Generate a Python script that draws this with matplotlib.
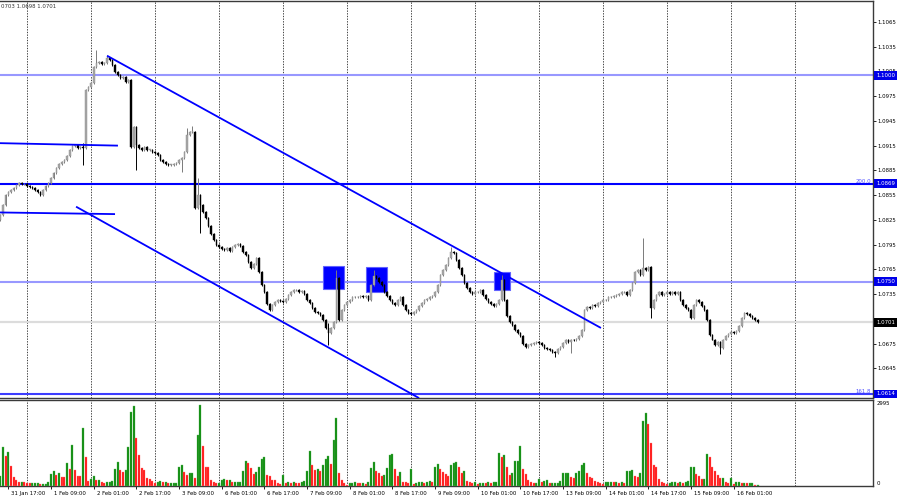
import matplotlib
matplotlib.use("Agg")
import matplotlib.pyplot as plt
import numpy as np
import pandas as pd
from matplotlib.patches import Rectangle
from matplotlib.transforms import ScaledTranslation

# ---------------- data ----------------
start_time = "2023-01-31 14:00"
first_open = 1.0825
closes = [
    1.0831, 1.0843, 1.0855, 1.0859, 1.0861, 1.0864, 1.0867, 1.0870, 1.0868, 1.0868,
    1.0866, 1.0865, 1.0864, 1.0861, 1.0859, 1.0855, 1.0861, 1.0866, 1.0870, 1.0876,
    1.0882, 1.0888, 1.0893, 1.0895, 1.0898, 1.0902, 1.0910, 1.0914, 1.0916, 1.0912,
    1.0913, 1.0912, 1.0982, 1.0986, 1.0991, 1.1010, 1.1015, 1.1016, 1.1014, 1.1015,
    1.1021, 1.1019, 1.1013, 1.1004, 1.1001, 1.0997, 1.0998, 1.0992, 1.0995, 1.0913,
    1.0937, 1.0916, 1.0912, 1.0910, 1.0913, 1.0910, 1.0910, 1.0907, 1.0906, 1.0904,
    1.0898, 1.0895, 1.0893, 1.0892, 1.0892, 1.0893, 1.0894, 1.0898, 1.0900, 1.0907,
    1.0928, 1.0932, 1.0932, 1.0839, 1.0855, 1.0843, 1.0834, 1.0827, 1.0818, 1.0808,
    1.0801, 1.0795, 1.0792, 1.0790, 1.0789, 1.0791, 1.0787, 1.0792, 1.0795, 1.0796,
    1.0793, 1.0786, 1.0783, 1.0774, 1.0767, 1.0772, 1.0779, 1.0762, 1.0746, 1.0737,
    1.0723, 1.0716, 1.0722, 1.0726, 1.0728, 1.0727, 1.0726, 1.0729, 1.0734, 1.0738,
    1.0740, 1.0740, 1.0738, 1.0739, 1.0735, 1.0728, 1.0724, 1.0718, 1.0713, 1.0712,
    1.0710, 1.0704, 1.0694, 1.0688, 1.0694, 1.0701, 1.0755, 1.0704, 1.0716, 1.0722,
    1.0726, 1.0728, 1.0731, 1.0731, 1.0732, 1.0733, 1.0732, 1.0733, 1.0728, 1.0746,
    1.0757, 1.0755, 1.0750, 1.0746, 1.0738, 1.0733, 1.0728, 1.0724, 1.0722, 1.0728,
    1.0732, 1.0722, 1.0716, 1.0712, 1.0711, 1.0713, 1.0716, 1.0721, 1.0724, 1.0728,
    1.0729, 1.0731, 1.0733, 1.0737, 1.0746, 1.0758, 1.0764, 1.0770, 1.0779, 1.0786,
    1.0785, 1.0776, 1.0767, 1.0758, 1.0749, 1.0743, 1.0738, 1.0735, 1.0737, 1.0738,
    1.0740, 1.0734, 1.0729, 1.0726, 1.0723, 1.0721, 1.0723, 1.0728, 1.0752, 1.0728,
    1.0709, 1.0701, 1.0697, 1.0692, 1.0688, 1.0684, 1.0675, 1.0671, 1.0673, 1.0675,
    1.0676, 1.0677, 1.0676, 1.0673, 1.0670, 1.0669, 1.0667, 1.0665, 1.0664, 1.0669,
    1.0671, 1.0676, 1.0680, 1.0677, 1.0680, 1.0679, 1.0681, 1.0684, 1.0692, 1.0716,
    1.0719, 1.0718, 1.0722, 1.0721, 1.0724, 1.0726, 1.0728, 1.0728, 1.0731, 1.0732,
    1.0733, 1.0734, 1.0735, 1.0737, 1.0738, 1.0734, 1.0740, 1.0749, 1.0762, 1.0764,
    1.0758, 1.0767, 1.0764, 1.0768, 1.0718, 1.0728, 1.0734, 1.0737, 1.0734, 1.0735,
    1.0737, 1.0735, 1.0737, 1.0735, 1.0738, 1.0728, 1.0722, 1.0718, 1.0716, 1.0706,
    1.0722, 1.0728, 1.0726, 1.0721, 1.0716, 1.0704, 1.0686, 1.0680, 1.0673, 1.0677,
    1.0670, 1.0680, 1.0684, 1.0687, 1.0689, 1.0688, 1.0690, 1.0696, 1.0706, 1.0712,
    1.0711, 1.0709, 1.0706, 1.0704, 1.0701,
]
high_spikes = {31: 1.0918, 36: 1.1031, 40: 1.1024, 70: 1.0936, 72: 1.0939, 74: 1.0876,
               123: 1.0700, 126: 1.0764, 140: 1.0764, 169: 1.0792, 188: 1.0758, 241: 1.0803}
low_spikes = {31: 1.0892, 51: 1.0886, 68: 1.0883, 75: 1.0809, 123: 1.0673, 208: 1.0659,
              214: 1.0664, 244: 1.0706, 270: 1.0662}
volumes = [
    340, 1361, 1067, 1208, 716, 328, 223, 152, 152, 129, 106, 94, 106, 106, 106, 70, 70, 70,
    152, 422, 516, 375, 446, 317, 305, 821, 598, 1443, 563, 364, 352, 2064, 1009, 188, 246,
    364, 223, 223, 152, 106, 129, 152, 164, 598, 856, 563, 504, 563, 1361, 2628, 2827, 1713,
    1103, 633, 563, 282, 235, 188, 106, 152, 188, 152, 152, 94, 117, 117, 117, 657, 751, 504,
    387, 457, 457, 282, 1806, 2850, 1408, 680, 657, 223, 129, 106, 106, 223, 246, 211, 223,
    152, 152, 152, 152, 516, 880, 798, 622, 422, 481, 680, 950, 1032, 387, 364, 223, 199, 106,
    70, 387, 94, 129, 117, 152, 117, 106, 152, 164, 540, 1243, 727, 563, 587, 516, 739, 938,
    1067, 786, 1642, 2416, 469, 199, 106, 35, 94, 117, 129, 106, 94, 94, 82, 152, 633, 845,
    516, 446, 352, 399, 633, 1103, 1126, 598, 352, 481, 152, 129, 106, 598, 70, 94, 129, 129,
    106, 129, 188, 152, 680, 774, 598, 481, 422, 364, 739, 798, 856, 680, 446, 540, 188, 129,
    94, 152, 70, 117, 117, 106, 152, 117, 129, 152, 1161, 1009, 1103, 680, 399, 457, 868, 891,
    1419, 598, 422, 223, 152, 106, 106, 235, 129, 188, 211, 106, 106, 117, 117, 188, 469, 469,
    469, 305, 282, 446, 540, 751, 798, 469, 305, 282, 188, 152, 106, 70, 129, 129, 152, 129,
    129, 117, 152, 117, 516, 540, 563, 364, 305, 457, 2299, 2569, 2182, 1525, 751, 657, 246,
    152, 94, 82, 106, 129, 129, 106, 129, 106, 152, 188, 680, 680, 422, 364, 235, 235, 1126,
    1032, 680, 540, 387, 270, 270, 129, 94, 282, 70, 152, 152, 106, 106, 94, 117, 117, 47, 47,
]
volume_max_label = 2995

time_labels = ["31 Jan 17:00", "1 Feb 09:00", "2 Feb 01:00", "2 Feb 17:00", "3 Feb 09:00",
               "6 Feb 01:00", "6 Feb 17:00", "7 Feb 09:00", "8 Feb 01:00", "8 Feb 17:00",
               "9 Feb 09:00", "10 Feb 01:00", "10 Feb 17:00", "13 Feb 09:00", "14 Feb 01:00",
               "14 Feb 17:00", "15 Feb 09:00", "16 Feb 01:00"]
price_ticks = [1.0645, 1.0675, 1.0705, 1.0735, 1.0765, 1.0795, 1.0825, 1.0855, 1.0885,
               1.0915, 1.0945, 1.0975, 1.1005, 1.1035, 1.1065]
hidden_tick_labels = [1.0705]   # covered by the current-price box in the reference

# horizontal levels: (price, line colour, label box colour, fib text)
levels = [(1.1000, "#9898FF", "#0000E8", None),
          (1.0869, "#0000FF", "#0000E8", "200.0"),
          (1.0750, "#9898FF", "#0000E8", None),
          (1.0614, "#3C3CFF", "#0000E8", "161.8")]
current_price = 1.0701
header_text = "0703 1.0698 1.0701"

# trend objects: (bar, price) pairs
channel_upper = [(40.0, 1.1024), (225.2, 1.0694)]
channel_lower = [(28.4, 1.0841), (157.0, 1.0609)]
fibo_short = [[(-0.2, 1.0918), (44.1, 1.0915)], [(-0.2, 1.0834), (43.0, 1.0832)]]
marker_boxes = [(121.0, 128.9, 1.0769, 1.0741), (137.1, 145.0, 1.0768, 1.0738),
                (185.1, 191.1, 1.0762, 1.0740)]

# ---------------- figure ----------------
FS = 3.9
plt.rcParams["font.family"] = ["DejaVu Sans"]
fig = plt.figure(figsize=(9, 5), dpi=100)
fig.patch.set_facecolor("white")
ax = fig.add_axes([0, 1 - 398 / 500, 873 / 900, 397 / 500])
axv = fig.add_axes([0, 1 - 486 / 500, 873 / 900, 86 / 500], sharex=ax)

n = len(closes)
times = pd.date_range(start_time, periods=900, freq="h")
times = times[times.dayofweek < 5][:340]
idx = np.arange(n)
opens = np.array([first_open] + closes[:-1])
cl = np.array(closes)
pad = 0.00012
highs = np.maximum(opens, cl) + pad
lows = np.minimum(opens, cl) - pad
for k, v in high_spikes.items():
    highs[k] = max(highs[k], v)
for k, v in low_spikes.items():
    lows[k] = min(lows[k], v)

xmin, xmax = -0.124, 327.2
ax.set_xlim(xmin, xmax)
ax.set_ylim(1.06091, 1.10903)

# day separators
day_starts = [i for i, t in enumerate(times) if t.hour == 0 and i < 300]
for a in (ax, axv):
    for d in day_starts:
        a.axvline(d, color="#222222", lw=0.6, dashes=(1.6, 1.6), zorder=0.5)

# horizontal levels
for price, lc, bc, fib in levels:
    ax.axhline(price, color=lc, lw=1.5, zorder=1)
    ax.text(876 / 873, price, f"{price:.4f}", transform=ax.get_yaxis_transform(),
            ha="left", va="center", fontsize=FS, color="white", clip_on=False, zorder=10,
            bbox=dict(boxstyle="square,pad=0.35", fc=bc, ec="none"))
    if fib:
        ax.text(871 / 873, price, fib, transform=ax.get_yaxis_transform(), ha="right",
                va="bottom", fontsize=FS, color="#5050FF", zorder=3)
ax.axhline(current_price, color="#DCDCDC", lw=1.6, zorder=1)
ax.text(876 / 873, current_price, f"{current_price:.4f}", transform=ax.get_yaxis_transform(),
        ha="left", va="center", fontsize=FS, color="white", clip_on=False, zorder=10,
        bbox=dict(boxstyle="square,pad=0.35", fc="black", ec="none"))

# marker boxes
for x0, x1, top, bot in marker_boxes:
    ax.add_patch(Rectangle((x0, bot), x1 - x0, top - bot, fc="#0000FF", ec="#6060FF",
                           lw=0.8, zorder=2))

# candles
bull = cl >= opens
body_lo = np.minimum(opens, cl)
body_h = np.maximum(np.abs(cl - opens), 0.00004)
ax.vlines(idx[bull], lows[bull], highs[bull], color="#7A7A7A", lw=0.7, zorder=3)
ax.vlines(idx[~bull], lows[~bull], highs[~bull], color="black", lw=0.7, zorder=3)
ax.bar(idx[bull], body_h[bull], bottom=body_lo[bull], width=0.62, color="#A8A8A8",
       edgecolor="#8A8A8A", lw=0.3, zorder=4)
ax.bar(idx[~bull], body_h[~bull], bottom=body_lo[~bull], width=0.62, color="black",
       edgecolor="black", lw=0.3, zorder=4)

# trend lines
for seg in [channel_upper, channel_lower] + fibo_short:
    xs, ys = zip(*seg)
    ax.plot(xs, ys, color="#0000FF", lw=1.3, zorder=5, solid_capstyle="butt")

# header
ax.text(0.001, 1 - 5 / 397, header_text, transform=ax.transAxes, ha="left", va="center",
        fontsize=FS, color="#333333", zorder=10)

# price axis
ax.yaxis.tick_right()
ax.set_yticks(price_ticks)
ax.set_yticklabels(["" if t in hidden_tick_labels else f"{t:.4f}" for t in price_ticks])
ax.tick_params(axis="y", length=2, width=0.6, pad=1.5, labelsize=FS, colors="black")
ax.tick_params(axis="x", bottom=False, labelbottom=False)
ax.spines["left"].set_visible(False)
for s in ["top", "right", "bottom"]:
    ax.spines[s].set_color("#3A3A3A")
    ax.spines[s].set_linewidth(1.0)

# volumes
vol = np.array(volumes, dtype=float)
prev = np.concatenate([[0], vol[:-1]])
up = vol >= prev
axv.bar(idx[up], vol[up], width=0.75, color="#0A8A0A", edgecolor="#5CB85C", lw=0.25, zorder=3)
axv.bar(idx[~up], vol[~up], width=0.75, color="#FF1010", edgecolor="#FF8080", lw=0.25, zorder=3)
axv.set_ylim(0, 3040)
axv.yaxis.tick_right()
axv.set_yticks([0, volume_max_label])
axv.set_yticklabels(["0", str(volume_max_label)])
axv.tick_params(axis="y", length=0, pad=2.5, labelsize=FS, colors="black")
ylabs = axv.get_yticklabels()
ylabs[0].set_verticalalignment("bottom")
ylabs[1].set_verticalalignment("top")
axv.spines["left"].set_visible(False)
for s in ["top", "right", "bottom"]:
    axv.spines[s].set_color("#3A3A3A")
    axv.spines[s].set_linewidth(1.0)

fmt = [f"{t.day} {t.strftime('%b')} {t.strftime('%H:%M')}" for t in times]
label_pos = [fmt.index(lbl) for lbl in time_labels]
axv.set_xticks(label_pos)
axv.set_xticklabels(time_labels)
axv.tick_params(axis="x", length=2.5, width=0.6, pad=1.2, labelsize=FS, colors="black",
                direction="out")
offset = ScaledTranslation(2.2 / 72, 0, fig.dpi_scale_trans)
for lab in axv.get_xticklabels():
    lab.set_horizontalalignment("left")
    lab.set_transform(lab.get_transform() + offset)

fig.savefig("out.png", dpi=100, facecolor="white")
